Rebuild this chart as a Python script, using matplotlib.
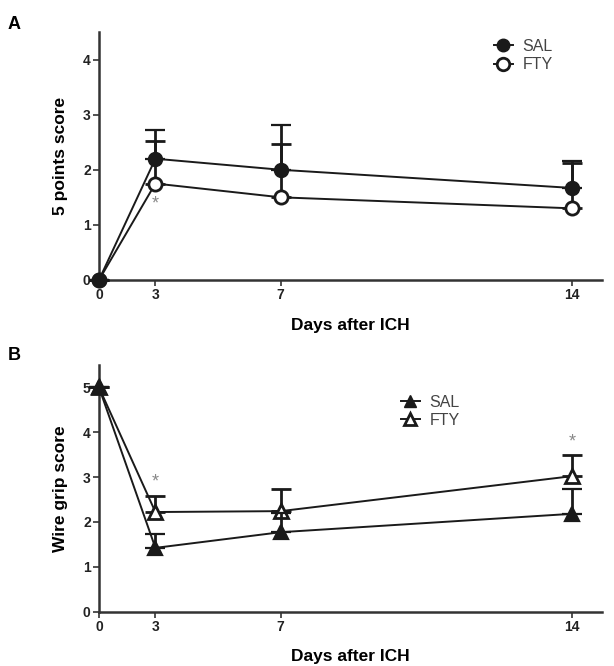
import numpy as np
import matplotlib.pyplot as plt
from matplotlib.lines import Line2D

# data
days = [0, 3, 7, 14]
day_ticks = ["0", "3", "7", "14"]

# panel A: 5 points score
a_sal = [0.0, 2.20, 2.00, 1.67]
a_sal_sem = [0.0, 0.52, 0.82, 0.48]
a_fty = [0.0, 1.75, 1.50, 1.30]
a_fty_sem = [0.0, 0.78, 0.97, 0.83]
a_star = [(3, 1.38)]

# panel B: wire grip score
b_sal = [5.0, 1.42, 1.77, 2.18]
b_sal_sem = [0.0, 0.31, 0.43, 0.55]
b_fty = [5.0, 2.22, 2.24, 3.02]
b_fty_sem = [0.0, 0.36, 0.49, 0.48]
b_star = [(3, 2.89), (14, 3.79)]

plt.rcParams['font.family'] = ['Liberation Sans', 'DejaVu Sans']

P = 1.38
def fwd(x):
    x = np.asarray(x, dtype=float)
    return np.sign(x) * np.abs(x) ** P
def inv(x):
    x = np.asarray(x, dtype=float)
    return np.sign(x) * np.abs(x) ** (1 / P)

fig = plt.figure(figsize=(6.14, 6.66), dpi=100)
axA = fig.add_axes([0.1612, 0.5796, 0.8192, 0.3724])
axB = fig.add_axes([0.1612, 0.0818, 0.8192, 0.3701])

def panel(ax, sal, sal_sem, fty, fty_sem, mk, ylim, yticks, ylabel, stars, leg_xy):
    ax.set_xscale('function', functions=(fwd, inv))
    ax.errorbar(days, fty, yerr=[np.zeros(4), fty_sem], color='#1a1a1a', lw=1.4,
                marker=mk, ms=9.5, mfc='white', mec='#1a1a1a', mew=2,
                elinewidth=2, capsize=7, capthick=2, clip_on=False, zorder=3)
    ax.errorbar(days, sal, yerr=[np.zeros(4), sal_sem], color='#1a1a1a', lw=1.4,
                marker=mk, ms=9.5, mfc='#1a1a1a', mec='#1a1a1a', mew=1.6,
                elinewidth=2, capsize=7, capthick=2, clip_on=False, zorder=4)
    for x, y in stars:
        ax.text(x, y, '*', color='#888888', fontsize=13, ha='center', va='center')
    ax.set_xlim(0, 14.64)
    ax.set_ylim(*ylim)
    ax.set_xticks(days)
    ax.set_xticklabels(day_ticks)
    ax.set_yticks(yticks)
    ax.minorticks_off()
    for s in ['top', 'right']:
        ax.spines[s].set_visible(False)
    for s in ['left', 'bottom']:
        ax.spines[s].set_linewidth(1.8)
        ax.spines[s].set_color('#333333')
    ax.tick_params(length=4, width=1.2, pad=2, labelsize=10, color='#333333')
    for t in ax.get_xticklabels() + ax.get_yticklabels():
        t.set_fontweight('bold')
        t.set_color('#222222')
    ax.set_xlabel('Days after ICH', fontsize=12.5, fontweight='bold', labelpad=11)
    ax.set_ylabel(ylabel, fontsize=12.5, fontweight='bold', labelpad=11)
    h1 = Line2D([], [], color='#1a1a1a', lw=1.4, marker=mk, ms=9, mfc='#1a1a1a', mec='#1a1a1a')
    h2 = Line2D([], [], color='#1a1a1a', lw=1.4, marker=mk, ms=9, mfc='white', mec='#1a1a1a', mew=2)
    leg = ax.legend([h1, h2], ['SAL', 'FTY'], loc='center left', bbox_to_anchor=leg_xy,
                    frameon=False, fontsize=11.5, handlelength=1.2, handletextpad=0.6,
                    borderpad=0, borderaxespad=0, labelspacing=0.2)
    for t in leg.get_texts():
        t.set_color('#444444')

panel(axA, a_sal, a_sal_sem, a_fty, a_fty_sem, 'o', (0, 4.5), [0, 1, 2, 3, 4],
      '5 points score', a_star, (0.785, 0.905))
panel(axB, b_sal, b_sal_sem, b_fty, b_fty_sem, '^', (0, 5.5), [0, 1, 2, 3, 4, 5],
      'Wire grip score', b_star, (0.60, 0.813))

fig.text(0.012, 0.957, 'A', fontsize=13, fontweight='bold')
fig.text(0.012, 0.459, 'B', fontsize=13, fontweight='bold')

fig.savefig('out.png', dpi=100)
